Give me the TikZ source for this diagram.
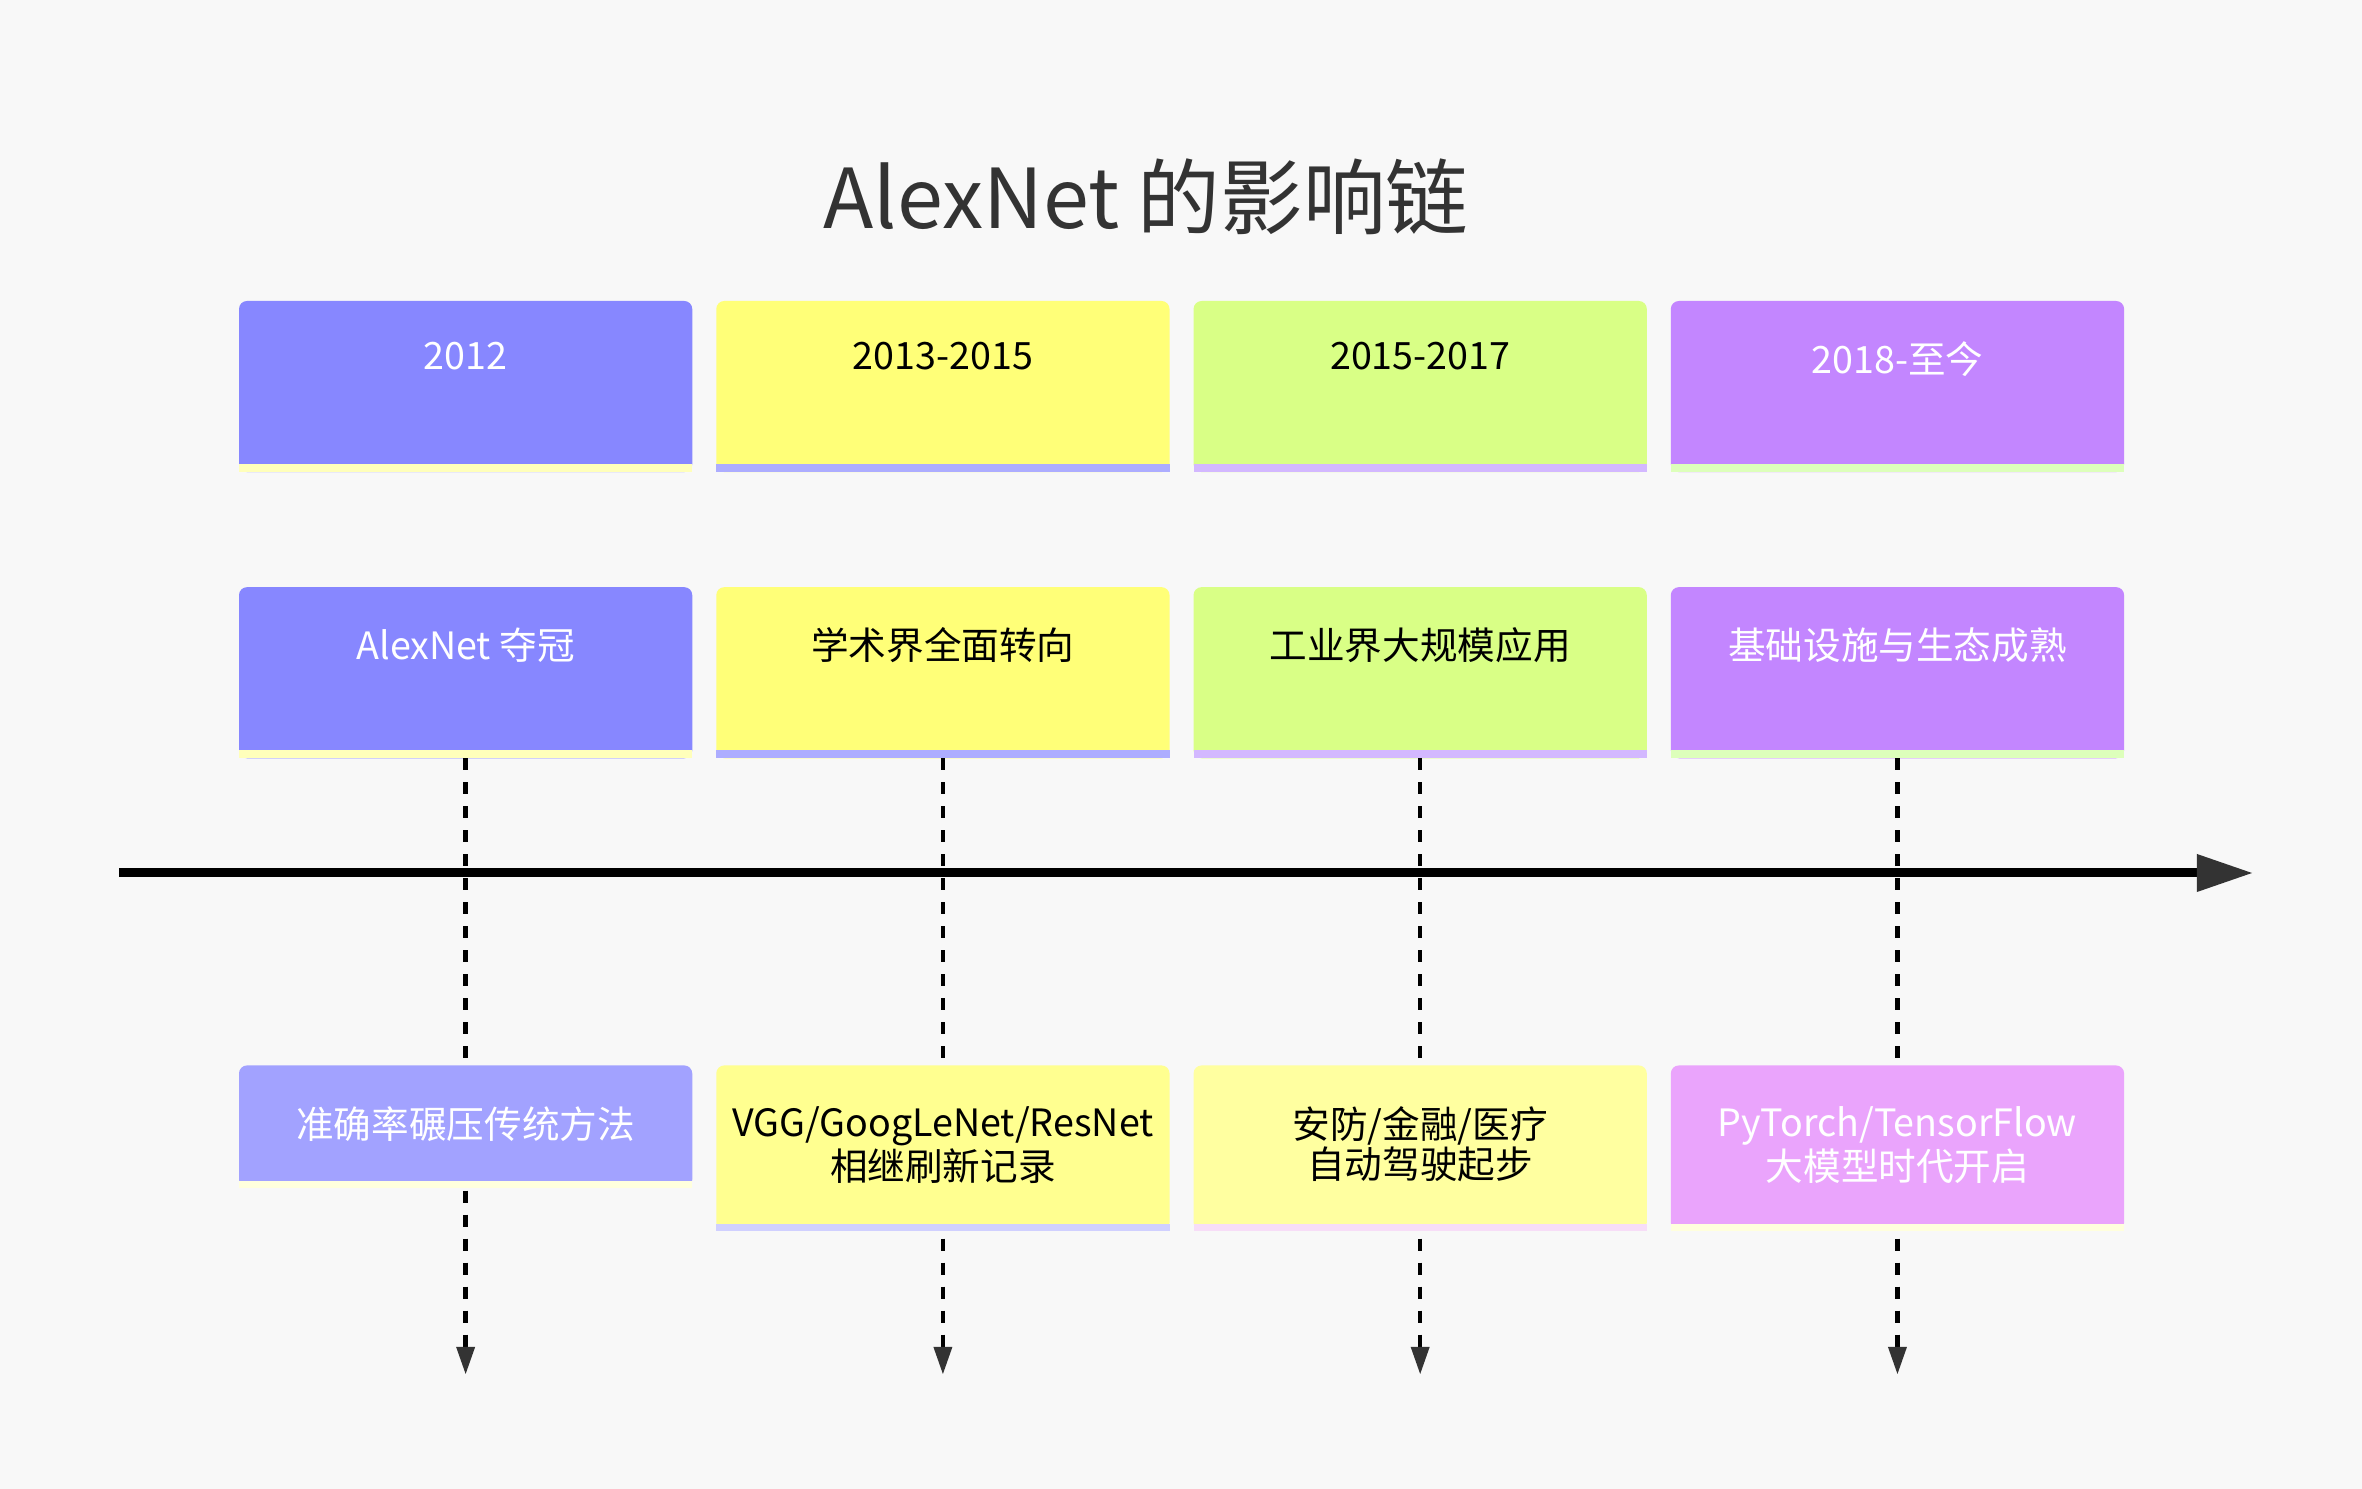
\documentclass[tikz,border=0pt]{standalone}
\usepackage{fontspec}
\newfontfamily\cjk{Noto Sans CJK SC}
\usetikzlibrary{positioning,arrows.meta}

\definecolor{bgc}{HTML}{F8F8F8}
\definecolor{ink}{HTML}{333333}
\definecolor{colA}{HTML}{8787FF}
\definecolor{colB}{HTML}{FFFF78}
\definecolor{colC}{HTML}{D9FF86}
\definecolor{colD}{HTML}{C386FF}
\definecolor{stripA}{HTML}{FFFFBB}
\definecolor{stripB}{HTML}{ADADFF}
\definecolor{stripC}{HTML}{D3B8FF}
\definecolor{stripD}{HTML}{DDFFBB}
\definecolor{ltA}{HTML}{A2A2FF}
\definecolor{ltB}{HTML}{FFFF90}
\definecolor{ltC}{HTML}{FFFFA0}
\definecolor{ltD}{HTML}{EAA4FC}
\definecolor{ltstripA}{HTML}{FFFFDD}
\definecolor{ltstripB}{HTML}{D0D0FF}
\definecolor{ltstripC}{HTML}{F7DDF7}
\definecolor{ltstripD}{HTML}{FFFFDD}

\begin{document}
\begin{tikzpicture}[
  x=0.01cm, y=-0.01cm,
  node distance=0.24cm,
  box/.style={rounded corners=0.08cm, inner sep=0pt, outer sep=0pt,
              minimum width=4.53cm, minimum height=1.71cm, fill=#1},
  txt/.style={font=\cjk\fontsize{10.7}{11.4}\selectfont, text=#1,
              inner sep=0pt, align=center},
  timeaxis/.style={line width=0.9mm,
              -{Triangle[length=5.5mm,width=3.8mm,line width=0pt,color=ink]}},
  dropline/.style={line width=0.45mm, dash pattern=on 1.2mm off 1.2mm,
              -{Triangle[length=2.7mm,width=1.9mm,line width=0pt,color=ink]}}
]
\fill[bgc] (0,0) rectangle (2362,1489);
\node[font=\cjk\fontsize{23.5}{28}\selectfont, text=ink] (title) at (1146,197) {AlexNet 的影响链};

% periods
\node[box=colA, anchor=north west] (p1) at (239,301) {};
\node[box=colB, right=of p1] (p2) {};
\node[box=colC, right=of p2] (p3) {};
\node[box=colD, right=of p3] (p4) {};
\fill[stripA] (p1.south west) rectangle ([yshift=0.08cm]p1.south east);
\fill[stripB] (p2.south west) rectangle ([yshift=0.08cm]p2.south east);
\fill[stripC] (p3.south west) rectangle ([yshift=0.08cm]p3.south east);
\fill[stripD] (p4.south west) rectangle ([yshift=0.08cm]p4.south east);
\node[txt=white, below=0.40cm of p1.north] (y1) {2012};
\node[txt=black, below=0.40cm of p2.north] (y2) {2013-2015};
\node[txt=black, below=0.40cm of p3.north] (y3) {2015-2017};
\node[txt=white, below=0.40cm of p4.north] (y4) {2018-至今};

% main events
\node[box=colA, below=1.15cm of p1] (e1) {};
\node[box=colB, below=1.15cm of p2] (e2) {};
\node[box=colC, below=1.15cm of p3] (e3) {};
\node[box=colD, below=1.15cm of p4] (e4) {};
\fill[stripA] (e1.south west) rectangle ([yshift=0.08cm]e1.south east);
\fill[stripB] (e2.south west) rectangle ([yshift=0.08cm]e2.south east);
\fill[stripC] (e3.south west) rectangle ([yshift=0.08cm]e3.south east);
\fill[stripD] (e4.south west) rectangle ([yshift=0.08cm]e4.south east);
\node[txt=white, below=0.40cm of e1.north] (m1) {AlexNet 夺冠};
\node[txt=black, below=0.40cm of e2.north] (m2) {学术界全面转向};
\node[txt=black, below=0.40cm of e3.north] (m3) {工业界大规模应用};
\node[txt=white, below=0.40cm of e4.north] (m4) {基础设施与生态成熟};

% drop lines and time axis
\coordinate (bot) at (0,1374);
\coordinate (f1) at (e1.south |- bot);
\coordinate (f2) at (e2.south |- bot);
\coordinate (f3) at (e3.south |- bot);
\coordinate (f4) at (e4.south |- bot);
\draw[dropline] (e1.south) -- (f1);
\draw[dropline] (e2.south) -- (f2);
\draw[dropline] (e3.south) -- (f3);
\draw[dropline] (e4.south) -- (f4);
\coordinate (axL) at (119,873);
\coordinate (axR) at (2252,873);
\draw[timeaxis] (axL) -- (axR);

% details
\node[box=ltA, minimum height=1.22cm, below=3.07cm of e1] (d1) {};
\node[box=ltB, minimum height=1.65cm, below=3.07cm of e2] (d2) {};
\node[box=ltC, minimum height=1.65cm, below=3.07cm of e3] (d3) {};
\node[box=ltD, minimum height=1.65cm, below=3.07cm of e4] (d4) {};
\fill[ltstripA] (d1.south west) rectangle ([yshift=0.07cm]d1.south east);
\fill[ltstripB] (d2.south west) rectangle ([yshift=0.07cm]d2.south east);
\fill[ltstripC] (d3.south west) rectangle ([yshift=0.07cm]d3.south east);
\fill[ltstripD] (d4.south west) rectangle ([yshift=0.07cm]d4.south east);
\node[txt=white, below=0.40cm of d1.north] (n1) {准确率碾压传统方法};
\node[txt=black, below=0.40cm of d2.north] (n2) {VGG/GoogLeNet/ResNet\\相继刷新记录};
\node[txt=black, below=0.40cm of d3.north] (n3) {安防/金融/医疗\\自动驾驶起步};
\node[txt=white, below=0.40cm of d4.north] (n4) {PyTorch/TensorFlow\\大模型时代开启};
\end{tikzpicture}
\end{document}
